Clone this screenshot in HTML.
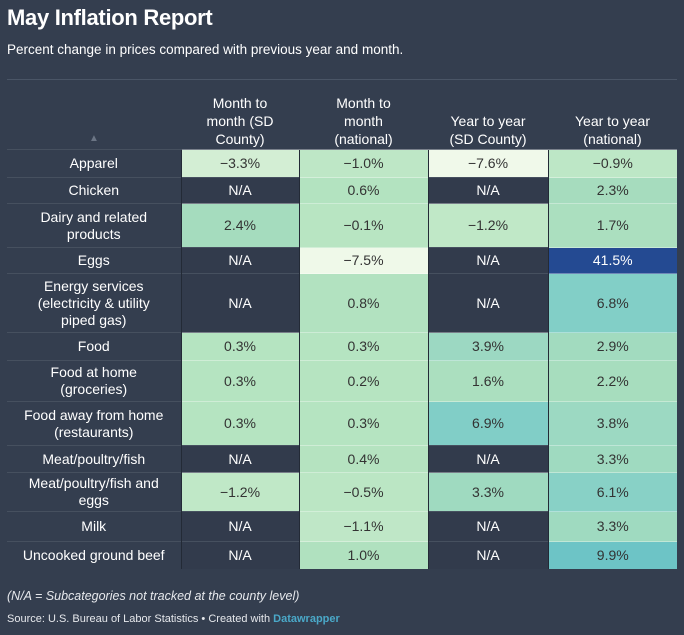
<!DOCTYPE html>
<html><head><meta charset="utf-8"><style>
body{margin:0;width:684px;height:635px;background:#343e4f;font-family:"Liberation Sans",sans-serif;color:#fff;overflow:hidden;position:relative}
#title{position:absolute;left:7px;top:5px;font-size:22px;font-weight:bold;letter-spacing:-0.3px}
#sub{position:absolute;left:7px;top:42px;font-size:13.5px}
#topline{position:absolute;left:7px;top:79px;width:670px;height:1px;background:#4a5566}
.h{position:absolute;top:86px;height:62px;display:flex;align-items:flex-end;justify-content:center;text-align:center;font-size:14px;line-height:18px}
table{position:absolute;left:7px;top:149px;border-collapse:collapse;width:670px;table-layout:fixed;font-size:14px}
td{text-align:center;padding:0 4px;border-top:1px solid #46505f;border-left:1px solid #232a36;line-height:17px}
td.l{border-left:none}
#note{position:absolute;left:7px;top:589px;font-size:12.5px;font-style:italic;color:#e6e8ec}
#src{position:absolute;left:7px;top:613px;font-size:11px;color:#e6e8ec}
#src b{color:#4aa8c8}
</style></head><body>
<div id="title">May Inflation Report</div>
<div id="sub">Percent change in prices compared with previous year and month.</div>
<div id="topline"></div>
<div class="h" style="left:7px;width:174px;color:#6b7585;font-size:10px">▲</div>
<div class="h" style="left:181px;width:118px">Month to<br>month (SD<br>County)</div>
<div class="h" style="left:299px;width:129px">Month to<br>month<br>(national)</div>
<div class="h" style="left:428px;width:120px">Year to year<br>(SD County)</div>
<div class="h" style="left:548px;width:129px">Year to year<br>(national)</div>
<table id="t"><colgroup><col style="width:174px"><col style="width:118px"><col style="width:129px"><col style="width:120px"><col style="width:129px"></colgroup><tbody id="tb"></tbody></table>
<div id="note">(N/A = Subcategories not tracked at the county level)</div>
<div id="src">Source: U.S. Bureau of Labor Statistics • Created with <b>Datawrapper</b></div>
<script>
const categories=["Apparel","Chicken","Dairy and related products","Eggs","Energy services (electricity & utility piped gas)","Food","Food at home (groceries)","Food away from home (restaurants)","Meat/poultry/fish","Meat/poultry/fish and eggs","Milk","Uncooked ground beef"];
const momSD=[-3.3,null,2.4,null,null,0.3,0.3,0.3,null,-1.2,null,null];
const momNat=[-1.0,0.6,-0.1,-7.5,0.8,0.3,0.2,0.3,0.4,-0.5,-1.1,1.0];
const yoySD=[-7.6,null,-1.2,null,null,3.9,1.6,6.9,null,3.3,null,null];
const yoyNat=[-0.9,2.3,1.7,41.5,6.8,2.9,2.2,3.8,3.3,6.1,3.3,9.9];
const labelHtml=["Apparel","Chicken","Dairy and related<br>products","Eggs","Energy services<br>(electricity &amp; utility<br>piped gas)","Food","Food at home<br>(groceries)","Food away from home<br>(restaurants)","Meat/poultry/fish","Meat/poultry/fish and<br>eggs","Milk","Uncooked ground beef"];
const rowH=[28,26,44,26,59,28,41,44,27,39,30,27];
const stops=[[-7.6,[240,249,234]],[-3.3,[211,238,212]],[-1,[190,231,198]],[0.5,[180,227,192]],[2.4,[165,220,190]],[4,[155,216,194]],[7,[128,206,199]],[10,[108,196,198]],[41.5,[36,74,146]]];
function col(v){
  if(v<=stops[0][0])return stops[0][1];
  for(let i=1;i<stops.length;i++){if(v<=stops[i][0]){const a=stops[i-1],b=stops[i];const t=(v-a[0])/(b[0]-a[0]);return a[1].map((c,k)=>Math.round(c+(b[1][k]-c)*t));}}
  return stops[stops.length-1][1];
}
function fmt(v){return (v<0?"\u2212"+Math.abs(v).toFixed(1):v.toFixed(1))+"%";}
const tb=document.getElementById('tb');
const cols=[momSD,momNat,yoySD,yoyNat];
const colNames=['mom-sd','mom-national','yoy-sd','yoy-national'];
categories.forEach((c,i)=>{
  const tr=document.createElement('tr');
  
  
  tr.style.height=rowH[i]+'px';
  const td=document.createElement('td');td.className='l';td.innerHTML=labelHtml[i];
  
  
  tr.appendChild(td);
  cols.forEach((arr,j)=>{
    const d=document.createElement('td');const v=arr[i];
    
    
    if(v===null){d.textContent='N/A';d.style.background='#323b4c';d.style.color='#fff';}
    else{const k=col(v);d.style.background='rgb('+k.join(',')+')';d.textContent=fmt(v);d.style.color=v>20?'#fff':'#333';d.style.borderTopColor='rgba(255,255,255,0.35)';}
    tr.appendChild(d);
  });
  tb.appendChild(tr);
});
</script>
</body></html>
